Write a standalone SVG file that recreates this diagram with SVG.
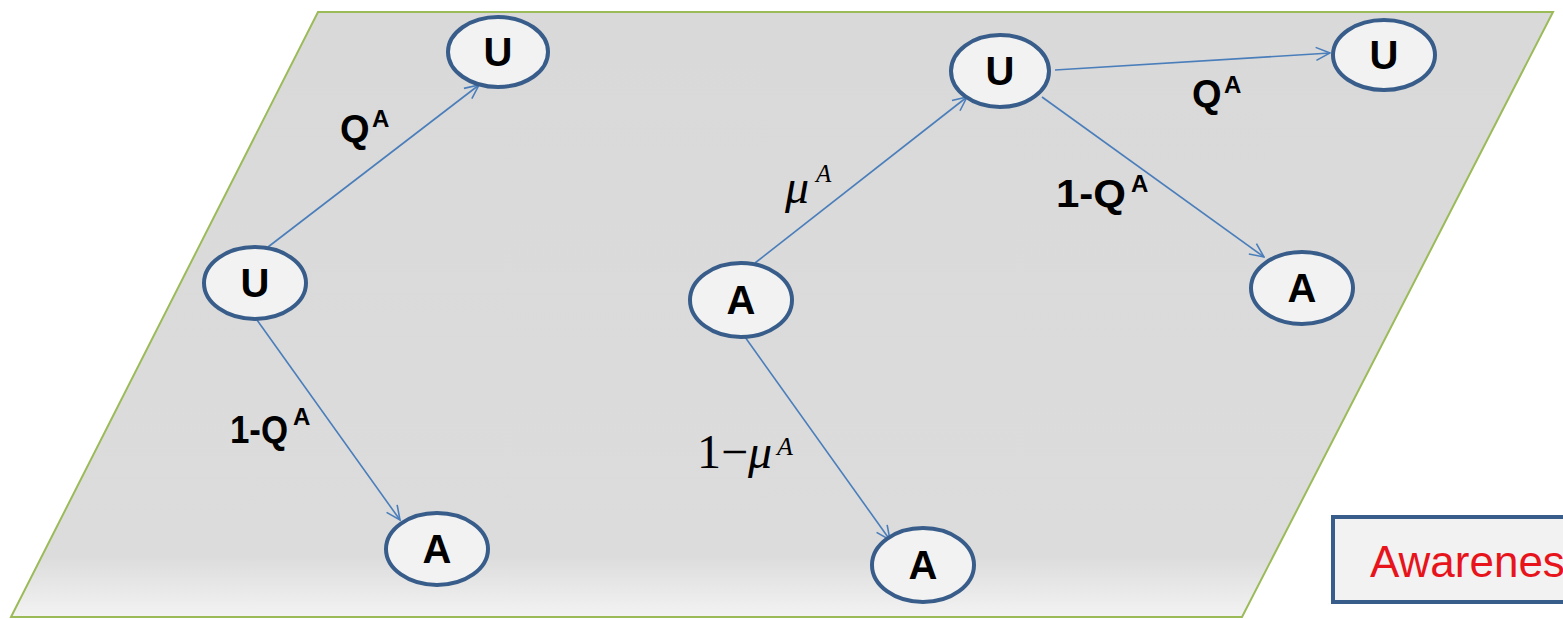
<svg xmlns="http://www.w3.org/2000/svg" width="1563" height="619" viewBox="0 0 1563 619">
  <defs>
    <linearGradient id="planeFill" x1="0" y1="0" x2="0" y2="1">
      <stop offset="0" stop-color="#d9d9d9"/>
      <stop offset="0.9" stop-color="#dcdcdc"/>
      <stop offset="1" stop-color="#f3f3f3"/>
    </linearGradient>
    <marker id="arrow" viewBox="0 0 16 16" refX="15" refY="8" markerWidth="16" markerHeight="16" markerUnits="userSpaceOnUse" orient="auto">
      <path d="M1,1.5 L15,8 L1,14.5" fill="none" stroke="#4a7ebb" stroke-width="1.6"/>
    </marker>
    <style>
      .node ellipse { fill: #f2f2f2; stroke: #385d8a; stroke-width: 4; }
      .node text { font-family: "Liberation Sans", Arial, sans-serif; font-weight: bold; font-size: 40px; fill: #000; text-anchor: middle; }
      .edge { stroke: #4a7ebb; stroke-width: 1.6; fill: none; marker-end: url(#arrow); }
      .lbl { font-family: "Liberation Sans", Arial, sans-serif; font-weight: bold; fill: #000; }
      .math { font-family: "Liberation Serif", "Times New Roman", serif; fill: #000; }
    </style>
  </defs>

  <rect x="0" y="0" width="1563" height="619" fill="#ffffff"/>

  <g id="plane">
    <polygon points="318,12 1553,12 1242,617 11,617" fill="url(#planeFill)" stroke="#9bbb59" stroke-width="2"/>
  </g>

  <g id="connectors">
    <line class="edge" x1="268" y1="247" x2="479" y2="85"/>
    <line class="edge" x1="257" y1="320" x2="400" y2="520"/>
    <line class="edge" x1="755" y1="263" x2="967" y2="97"/>
    <line class="edge" x1="745" y1="337" x2="890" y2="540"/>
    <line class="edge" x1="1055" y1="70" x2="1330" y2="53"/>
    <line class="edge" x1="1042" y1="97" x2="1264" y2="257"/>
  </g>

  <g id="labels">
    <text class="lbl" x="340" y="142" font-size="38">Q</text>
    <text class="lbl" x="372" y="127" font-size="24">A</text>

    <text class="lbl" x="230" y="443" font-size="39" textLength="58" lengthAdjust="spacingAndGlyphs">1-Q</text>
    <text class="lbl" x="293" y="425" font-size="24">A</text>

    <text class="lbl" x="1192" y="107" font-size="38">Q</text>
    <text class="lbl" x="1224" y="93" font-size="24">A</text>

    <text class="lbl" x="1056" y="207" font-size="39" textLength="70" lengthAdjust="spacingAndGlyphs">1-Q</text>
    <text class="lbl" x="1131" y="192" font-size="24">A</text>

    <text class="math" x="785" y="203" font-size="48" font-style="italic">μ</text>
    <text class="math" x="816" y="182" font-size="25" font-style="italic">A</text>

    <text class="math" x="697" y="468" font-size="48">1−<tspan font-style="italic">μ</tspan></text>
    <text class="math" x="777" y="455" font-size="26" font-style="italic">A</text>
  </g>

  <g id="node-u1" class="node">
    <ellipse cx="498" cy="52" rx="50" ry="35"/>
    <text x="498" y="66">U</text>
  </g>
  <g id="node-u2" class="node">
    <ellipse cx="255" cy="283" rx="51" ry="36"/>
    <text x="255" y="297">U</text>
  </g>
  <g id="node-a1" class="node">
    <ellipse cx="437" cy="549" rx="51" ry="36"/>
    <text x="437" y="563">A</text>
  </g>
  <g id="node-a2" class="node">
    <ellipse cx="741" cy="300" rx="51" ry="37"/>
    <text x="741" y="314">A</text>
  </g>
  <g id="node-u3" class="node">
    <ellipse cx="1000" cy="71" rx="49" ry="36"/>
    <text x="1000" y="85">U</text>
  </g>
  <g id="node-u4" class="node">
    <ellipse cx="1384" cy="55" rx="51" ry="35"/>
    <text x="1384" y="69">U</text>
  </g>
  <g id="node-a3" class="node">
    <ellipse cx="1302" cy="288" rx="51" ry="36"/>
    <text x="1302" y="302">A</text>
  </g>
  <g id="node-a4" class="node">
    <ellipse cx="923" cy="565" rx="51" ry="37"/>
    <text x="923" y="579">A</text>
  </g>

  <g id="legend">
    <rect x="1333" y="517" width="260" height="85" fill="#f2f2f2" stroke="#385d8a" stroke-width="4"/>
    <text x="1370" y="577" font-family="Liberation Sans, Arial, sans-serif" font-size="44" fill="#e8141c">Awarenes</text>
  </g>
</svg>
